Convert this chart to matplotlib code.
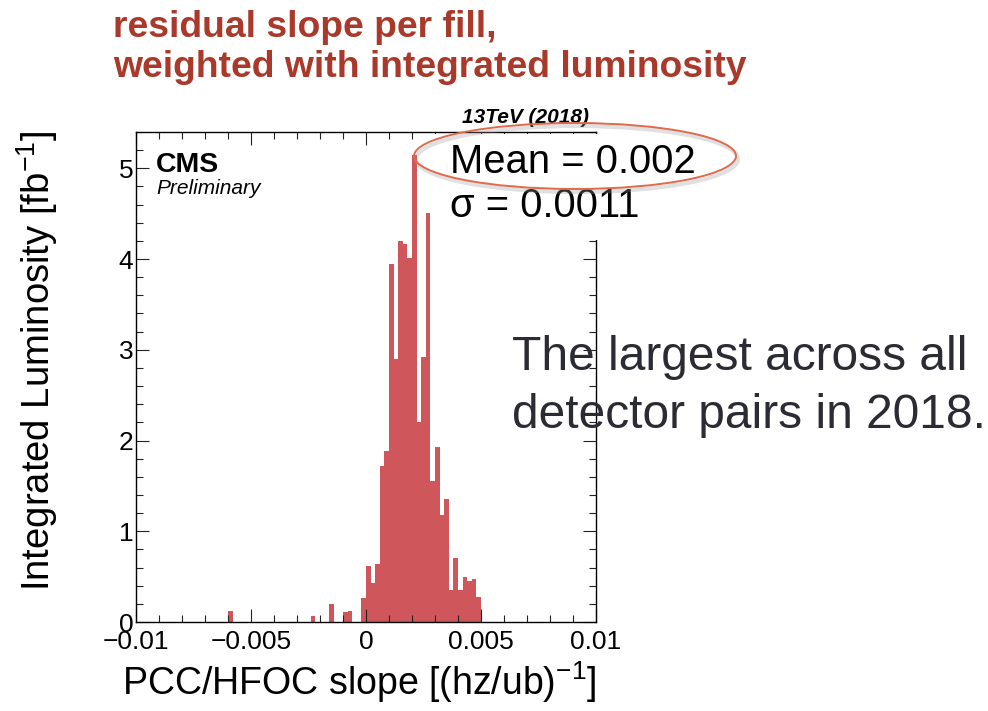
import numpy as np
import matplotlib
matplotlib.use("Agg")
import matplotlib.pyplot as plt
from matplotlib.patches import Ellipse, Rectangle
from matplotlib.ticker import MultipleLocator

plt.rcParams['font.family'] = ['Liberation Sans', 'DejaVu Sans']

# lower edge of each non-empty bin (bin width 0.0002) and luminosity in fb^-1
slope_lo = [-0.0060, -0.0024, -0.0016, -0.0010, -0.0008, -0.0002,
            0.0000, 0.0002, 0.0004, 0.0006, 0.0008, 0.0010, 0.0012, 0.0014,
            0.0016, 0.0018, 0.0020, 0.0022, 0.0024, 0.0026, 0.0028, 0.0030,
            0.0032, 0.0034, 0.0036, 0.0038, 0.0040, 0.0042, 0.0044, 0.0046,
            0.0048]
lumi = [0.12, 0.07, 0.20, 0.11, 0.12, 0.27,
        0.62, 0.43, 0.64, 1.72, 1.89, 3.94, 2.90, 4.20,
        4.17, 4.01, 5.15, 2.20, 2.92, 4.51, 1.55, 1.93,
        1.18, 1.35, 0.35, 0.71, 0.35, 0.50, 0.45, 0.47,
        0.27]
mean_val = 0.002
sigma_val = 0.0011

W, H = 988, 711
fig = plt.figure(figsize=(W / 100, H / 100), dpi=100)


def px(x, y):
    # pixel position (from top-left) -> figure fraction
    return x / W, 1 - y / H


x0, y0 = px(136, 622)
x1, y1 = px(596, 132)
ax = fig.add_axes([x0, y0, x1 - x0, y1 - y0])

bins = np.linspace(-0.01, 0.01, 101)
centers = np.array(slope_lo) + 0.0001
ax.hist(centers, bins=bins, weights=lumi, color='#cf575b', histtype='bar',
        rwidth=1.0, linewidth=0)

ax.set_xlim(-0.01, 0.01)
ax.set_ylim(0, 5.4)
ax.set_xticks([-0.01, -0.005, 0, 0.005, 0.01])
ax.set_xticklabels(['\u22120.01', '\u22120.005', '0', '0.005', '0.01'])
ax.xaxis.set_minor_locator(MultipleLocator(0.001))
ax.yaxis.set_major_locator(MultipleLocator(1))
ax.yaxis.set_minor_locator(MultipleLocator(0.2))
ax.tick_params(which='both', direction='in', top=True, right=True,
               labelsize=19, color='#222222', width=0.8)
ax.tick_params(which='major', length=9.5)
ax.tick_params(which='minor', length=5)
ax.tick_params(axis='x', pad=6)
ax.tick_params(axis='y', pad=2)
for s in ax.spines.values():
    s.set_linewidth(1.0)

# axis titles, right/top aligned
fig.text(*px(597, 695), 'PCC/HFOC slope [(hz/ub)$^{\\mathregular{-1}}$]',
         fontsize=27, ha='right', va='baseline')
fig.text(*px(60, 130), 'Integrated Luminosity [fb$^{\\mathregular{-1}}$]',
         fontsize=27.5, rotation=90, ha='right', va='top')

fig.text(*px(156, 172), 'CMS', fontsize=20.5, fontweight='bold')
fig.text(*px(156, 194), 'Preliminary', fontsize=15, style='italic')

# stats box
fig.add_artist(Rectangle(px(433, 240), 300 / W, 106 / H,
                         transform=fig.transFigure, facecolor='white',
                         edgecolor='none', zorder=2))
fig.text(*px(462, 123), '13TeV (2018)', fontsize=15, fontweight='bold',
         style='italic', zorder=3)
fig.text(*px(450, 173), f'Mean = {mean_val:g}', fontsize=28.8, zorder=3)
fig.text(*px(450, 217), f'\u03c3 = {sigma_val:g}', fontsize=28.8, zorder=3)

# highlight ring round the mean
cx, cy = px(575, 156)
fig.add_artist(Ellipse((cx + 2 / W, cy - 3 / H), 322 / W, 66 / H,
                       transform=fig.transFigure, fill=False,
                       edgecolor='#999999', alpha=0.3, linewidth=3, zorder=4))
fig.add_artist(Ellipse((cx, cy), 322 / W, 66 / H, transform=fig.transFigure,
                       fill=False, edgecolor='#dd6b4d', linewidth=1.4, zorder=5))

fig.text(*px(113, 37), 'residual slope per fill,', fontsize=26.8,
         fontweight='bold', color='#a9392a')
fig.text(*px(113, 77), 'weighted with integrated luminosity', fontsize=26.8,
         fontweight='bold', color='#a9392a')

fig.text(*px(512, 370), 'The largest across all', fontsize=34.5,
         color='#2b2b33', zorder=6)
fig.text(*px(512, 428), 'detector pairs in 2018.', fontsize=34.5,
         color='#2b2b33', zorder=6)

fig.savefig('out.png', dpi=100)
